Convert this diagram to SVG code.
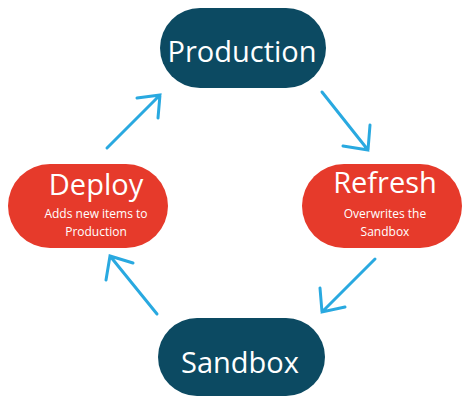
<svg xmlns="http://www.w3.org/2000/svg" width="464" height="398" viewBox="0 0 464 398">
  <defs>
    <style>
      .dark { fill: #0c4a62; }
      .red { fill: #e63a2b; }
      .title { font-family: "Open Sans", "Liberation Sans", sans-serif; font-size: 29px; fill: #ffffff; text-anchor: middle; }
      .sub { font-family: "Open Sans", "Liberation Sans", sans-serif; font-size: 12px; fill: #ffffff; text-anchor: middle; }
      .arrow { fill: none; stroke: #29a9e0; stroke-width: 3; stroke-linecap: round; stroke-linejoin: miter; }
    </style>
  </defs>
  <rect width="464" height="398" fill="#ffffff"/>

  <g id="production">
    <rect class="dark" x="160" y="8" width="166" height="80" rx="40"/>
    <text class="title" x="242" y="62">Production</text>
  </g>

  <g id="refresh">
    <rect class="red" x="302" y="164" width="160" height="84" rx="42"/>
    <text class="title" x="385" y="193">Refresh</text>
    <text class="sub" x="385" y="218">Overwrites the</text>
    <text class="sub" x="385" y="236">Sandbox</text>
  </g>

  <g id="sandbox">
    <rect class="dark" x="158" y="318" width="167" height="78" rx="39"/>
    <text class="title" x="240" y="373">Sandbox</text>
  </g>

  <g id="deploy">
    <rect class="red" x="8" y="164" width="160" height="84" rx="42"/>
    <text class="title" x="96" y="195">Deploy</text>
    <text class="sub" x="96" y="218">Adds new items to</text>
    <text class="sub" x="96" y="236">Production</text>
  </g>

  <g id="connectors">
    <!-- Deploy to Production -->
    <path class="arrow" d="M107,148 L160,95 M137,98 L160,95 L158,118"/>
    <!-- Production to Refresh -->
    <path class="arrow" d="M322,92 L368,150 M343,146 L368,150 L370,125"/>
    <!-- Refresh to Sandbox -->
    <path class="arrow" d="M375,259 L322,312 M320,288 L322,312 L345,307"/>
    <!-- Sandbox to Deploy -->
    <path class="arrow" d="M157,314 L110,256 M106,280 L110,256 L133,263"/>
  </g>
</svg>
